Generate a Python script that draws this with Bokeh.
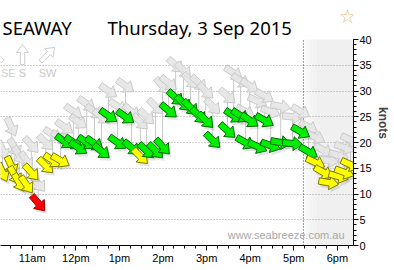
import math
from bokeh.plotting import figure
from bokeh.models import FixedTicker, Range1d, Label, BoxAnnotation, ColumnDataSource, Grid
from bokeh.embed import file_html
from bokeh.resources import INLINE

# ---------------- data ----------------
obs_hour = [10.32, 10.52, 10.60, 10.70, 10.87, 10.98, 11.14, 11.31, 11.47, 11.65,
            11.74, 11.95, 12.06, 12.25, 12.43, 12.59, 12.75, 12.96, 13.14, 13.28,
            13.48, 13.62, 13.83, 13.99, 14.13, 14.29, 14.47, 14.63, 14.82, 14.98,
            15.14, 15.48, 15.62, 15.78, 15.89, 15.99, 16.17, 16.33, 16.47, 16.70,
            16.97, 17.16, 17.34, 17.50, 17.68, 17.80, 18.03, 18.16, 18.30]
wind_kts = [14.2, 15.5, 13.6, 12.2, 11.8, 14.2, 8.2, 15.5, 16.5, 16.5,
            20.2, 20.0, 19.0, 20.0, 19.8, 18.3, 25.2, 20.0, 25.0, 19.0,
            17.3, 18.4, 18.4, 19.2, 26.2, 28.7, 27.6, 26.8, 25.2, 24.3,
            20.4, 22.3, 25.2, 25.2, 20.0, 24.3, 19.2, 24.3, 19.4, 20.0,
            19.8, 22.1, 18.2, 16.1, 14.2, 12.2, 13.4, 14.2, 15.7]
gust_kts = [18.5, 23.0, 19.0, 17.5, 16.5, 19.5, 12.0, 20.0, 21.5, 21.0,
            23.0, 26.0, 24.0, 27.5, 26.0, 25.0, 30.0, 27.0, 31.0, 26.0,
            24.0, 25.0, 27.0, 31.0, 31.5, 35.0, 34.0, 32.0, 31.5, 30.0,
            27.0, 29.0, 33.5, 32.0, 26.0, 31.0, 28.0, 29.0, 26.0, 27.0,
            25.0, 26.0, 23.0, 21.0, 18.5, 16.5, 17.5, 19.0, 20.5]
wind_dir = [335, 335, 330, 330, 325, 318, 320, 315, 305, 300,
            305, 305, 305, 305, 305, 310, 305, 305, 305, 310,
            315, 315, 315, 318, 310, 312, 315, 315, 315, 315,
            315, 312, 303, 303, 300, 305, 295, 300, 290, 280,
            275, 300, 300, 295, 300, 280, 285, 290, 295]

tick_hours = [11, 12, 13, 14, 15, 16, 17, 18]
tick_labels = ["11am", "12pm", "1pm", "2pm", "3pm", "4pm", "5pm", "6pm"]
y_ticks = [0, 5, 10, 15, 20, 25, 30, 35, 40]
grid_ticks = [5, 10, 15, 20, 25, 30, 35]
sunset_hour = 17.22

station = "SEAWAY"
date_text = "Thursday, 3 Sep 2015"
watermark = "www.seabreeze.com.au"

compass_labels = ["SE", "S", "SW"]
compass_dirs = [135, 180, 225]
compass_hour = [10.16, 10.778, 11.351]

# ---------------- geometry ----------------
X0, X1 = 10.273, 18.369
Y0, YMAX = 0, 40
FRAME_W = 353
PLOT_H = 206                      # pixels between 0 and 40 knots
PPH = FRAME_W / (X1 - X0)
PPK = PLOT_H / (YMAX - Y0)
FRAME_H = 245                     # frame reaches the top of the canvas
Y1 = FRAME_H / PPK


def px_x(px):
    return X0 + px / PPH


def px_y(py):
    return (FRAME_H - py) / PPK


def arrow_xy(cx, cy, dir_from, L=20, sw=3.2, hw=7, hl=9, ox=0.0, oy=0.0):
    b = math.radians(dir_from + 180)
    ux, uy = math.sin(b), math.cos(b)
    vx, vy = -uy, ux
    hb = L / 2 - hl
    pts = [(-L / 2, -sw), (hb, -sw), (hb, -hw), (L / 2, 0), (hb, hw), (hb, sw), (-L / 2, sw)]
    xs = [cx + (u * ux + v * vx + ox) / PPH for u, v in pts]
    ys = [cy + (u * uy + v * vy + oy) / PPK for u, v in pts]
    return xs, ys


def colours(k):
    if k < 10:
        return "#ff0000", "#a00000"
    if k < 18:
        return "#ffff00", "#7a7a00"
    return "#00ee00", "#006a00"


p = figure(frame_width=FRAME_W, frame_height=FRAME_H, x_range=Range1d(X0, X1), y_range=Range1d(Y0, Y1),
           y_axis_location="right", toolbar_location=None, output_backend="svg",
           min_border_left=0, min_border_right=41, min_border_top=0, min_border_bottom=25)
p.outline_line_color = None
p.background_fill_color = "white"
p.border_fill_color = "white"

# night shading with a soft left edge
shade = ["#fbfbfb", "#f7f7f7", "#f4f4f4", "#f2f2f2"]
step = 3 / PPH
for i, c in enumerate(shade):
    p.add_layout(BoxAnnotation(left=sunset_hour + i * step, right=sunset_hour + (i + 1) * step,
                               top=YMAX, bottom=Y0, fill_color=c, fill_alpha=1, line_color=None,
                               level="underlay"))
p.add_layout(BoxAnnotation(left=sunset_hour + len(shade) * step, top=YMAX, bottom=Y0,
                           fill_color="#f0f0f0", fill_alpha=1, line_color=None, level="underlay"))

# grids on top of shading
grids = [r for r in p.center if isinstance(r, Grid)]
others = [r for r in p.center if not isinstance(r, Grid)]
p.center = others + grids
p.xgrid.visible = False
p.ygrid.ticker = FixedTicker(ticks=grid_ticks)
p.ygrid.grid_line_color = "#a0a0a0"
p.ygrid.grid_line_dash = "1 2"

# axes
p.xaxis.ticker = FixedTicker(ticks=tick_hours, minor_ticks=[10.5 + 0.25 * i for i in range(33)])
p.xaxis.major_label_overrides = {h: t for h, t in zip(tick_hours, tick_labels)}
p.yaxis.ticker = FixedTicker(ticks=y_ticks, minor_ticks=list(range(0, 41)))
p.yaxis.bounds = (Y0, YMAX)
for ax in (p.xaxis, p.yaxis):
    ax.axis_line_color = "black"
    ax.major_tick_line_color = "black"
    ax.minor_tick_line_color = "black"
    ax.major_tick_in = 0
    ax.major_tick_out = 5
    ax.minor_tick_in = 0
    ax.minor_tick_out = 3
    ax.major_label_text_font = "Liberation Sans"
    ax.major_label_text_font_size = "11px"
    ax.major_label_text_color = "black"
p.xaxis.major_label_standoff = 1
p.yaxis.major_label_standoff = 1
p.yaxis.axis_label = "knots"
p.yaxis.axis_label_text_font = "Liberation Sans"
p.yaxis.axis_label_text_font_style = "bold"
p.yaxis.axis_label_text_font_size = "12px"
p.yaxis.axis_label_standoff = 1

# sunset line (behind the arrows)
p.segment(x0=[sunset_hour], y0=[Y0], x1=[sunset_hour], y1=[YMAX], line_color="#333333",
          line_dash="1 2", line_width=1)

# compass hint (decoration)
cx_, cy_ = [], []
for h, d in zip(compass_hour, compass_dirs):
    xs, ys = arrow_xy(h, 37.1, d, L=20, sw=2.2, hw=6, hl=8)
    cx_.append(xs)
    cy_.append(ys)
p.patches(cx_, cy_, fill_color="white", fill_alpha=0.6, line_color="#cccccc", line_width=1)
for i, (h, t) in enumerate(zip(compass_hour, compass_labels)):
    if i == 0:
        p.add_layout(Label(x=px_x(0.5), y=33.4, text=t, text_align="left", text_baseline="middle",
                           text_font="Liberation Sans", text_font_size="11px", text_color="#d0d0d0"))
    else:
        p.add_layout(Label(x=h, y=33.4, text=t, text_align="center", text_baseline="middle",
                           text_font="Liberation Sans", text_font_size="11px", text_color="#c8c8c8"))

# gust links
p.segment(x0=obs_hour, y0=wind_kts, x1=obs_hour, y1=gust_kts, line_color="#c8c8c8", line_width=1)

# gust arrows
gx, gy = [], []
for h, g, d in zip(obs_hour, gust_kts, wind_dir):
    xs, ys = arrow_xy(h, g, d)
    gx.append(xs)
    gy.append(ys)
p.patches(gx, gy, fill_color="#e4e4e4", fill_alpha=0.85, line_color="#cacaca", line_width=1)

# shadows and wind arrows
sx, sy, wx, wy, fc, lc = [], [], [], [], [], []
for h, k, d in zip(obs_hour, wind_kts, wind_dir):
    xs, ys = arrow_xy(h, k, d, ox=2, oy=-3)
    sx.append(xs)
    sy.append(ys)
    xs, ys = arrow_xy(h, k, d)
    wx.append(xs)
    wy.append(ys)
    f, l = colours(k)
    fc.append(f)
    lc.append(l)
p.patches(sx, sy, fill_color="black", fill_alpha=0.1, line_color=None)
p.patches(xs="xs", ys="ys", fill_color="fc", line_color="lc", line_width=1,
          source=ColumnDataSource(dict(xs=wx, ys=wy, fc=fc, lc=lc)))

# heading texts, star and watermark
p.add_layout(Label(x=px_x(2), y=px_y(27), text=station, text_font="Noto Sans", text_font_size="18.5px",
                   text_color="black", text_baseline="alphabetic"))
p.add_layout(Label(x=px_x(107), y=px_y(27), text=date_text, text_font="Noto Sans",
                   text_font_size="18.5px", text_color="black", text_baseline="alphabetic"))
p.add_layout(Label(x=px_x(347), y=px_y(15), text="\u2606", text_font="DejaVu Sans", text_font_size="19px",
                   text_color="#eab778", text_align="center", text_baseline="middle"))
p.add_layout(Label(x=px_x(344), y=px_y(234), text=watermark, text_font="Liberation Sans",
                   text_font_size="11px", text_color="#a8a8a8", text_align="right", text_baseline="middle"))

open("out.html", "w").write(file_html(p, INLINE))
